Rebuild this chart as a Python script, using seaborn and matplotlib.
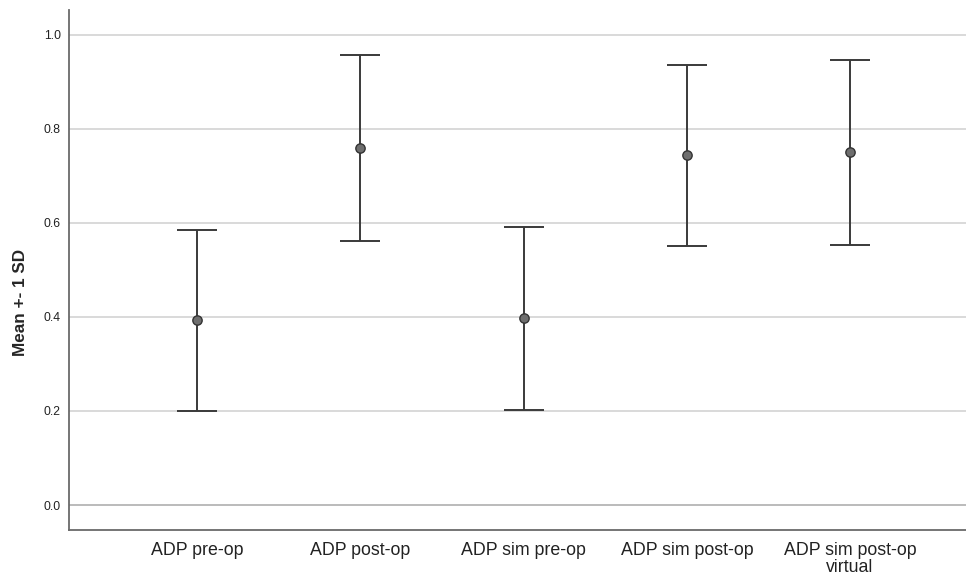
import matplotlib
matplotlib.use("Agg")
import matplotlib.pyplot as plt
import seaborn as sns
import pandas as pd

# Data
groups = ["ADP pre-op", "ADP post-op", "ADP sim pre-op", "ADP sim post-op", "ADP sim post-op\nvirtual"]
means = [0.393, 0.760, 0.397, 0.744, 0.750]
sds = [0.193, 0.198, 0.194, 0.193, 0.196]

df = pd.DataFrame({"group": groups, "mean": means, "sd": sds})
df["pos"] = range(len(groups))

sns.set_style("white")
plt.rcParams["font.family"] = ["Liberation Sans", "DejaVu Sans"]

fig = plt.figure(figsize=(9.66, 5.76), dpi=100)
ax = fig.add_axes([0.0714, 0.080, 0.9286, 0.9026])

# grid lines
ax.set_yticks([0.0, 0.2, 0.4, 0.6, 0.8, 1.0])
for yv in ax.get_yticks():
    ax.axhline(yv, color="#a8a8a8" if yv == 0 else "#cfcfcf", lw=1.1, zorder=0)

# error bars (mean +- 1 SD)
ax.errorbar(df["pos"], df["mean"], yerr=df["sd"], fmt="none", ecolor="#3a3a3a",
            elinewidth=1.4, capsize=14.5, capthick=1.4, zorder=2)

# mean points
sns.scatterplot(data=df, x="pos", y="mean", ax=ax, s=45, color="#6e6e6e",
                edgecolor="#333333", linewidth=1.0, zorder=3, legend=False)

ax.set_xlim(-0.785, 4.71)
ax.set_ylim(-0.053, 1.053)
ax.set_xticks(df["pos"])
ax.set_xticklabels(groups, fontsize=12.8, color="#222222", linespacing=1.0)
ax.set_yticklabels(["0.0", "0.2", "0.4", "0.6", "0.8", "1.0"], fontsize=8.8, color="#222222")
ax.tick_params(axis="x", length=0, pad=9)
ax.tick_params(axis="y", length=0, pad=6)
ax.set_xlabel("")
ax.set_ylabel("Mean +- 1 SD", fontsize=12.3, fontweight="bold")
ax.yaxis.set_label_coords(-0.046, 0.438)

for side in ["top", "right"]:
    ax.spines[side].set_visible(False)
for side in ["left", "bottom"]:
    ax.spines[side].set_color("#6a6a6a")
    ax.spines[side].set_linewidth(1.3)

fig.savefig("out.png", dpi=100)
